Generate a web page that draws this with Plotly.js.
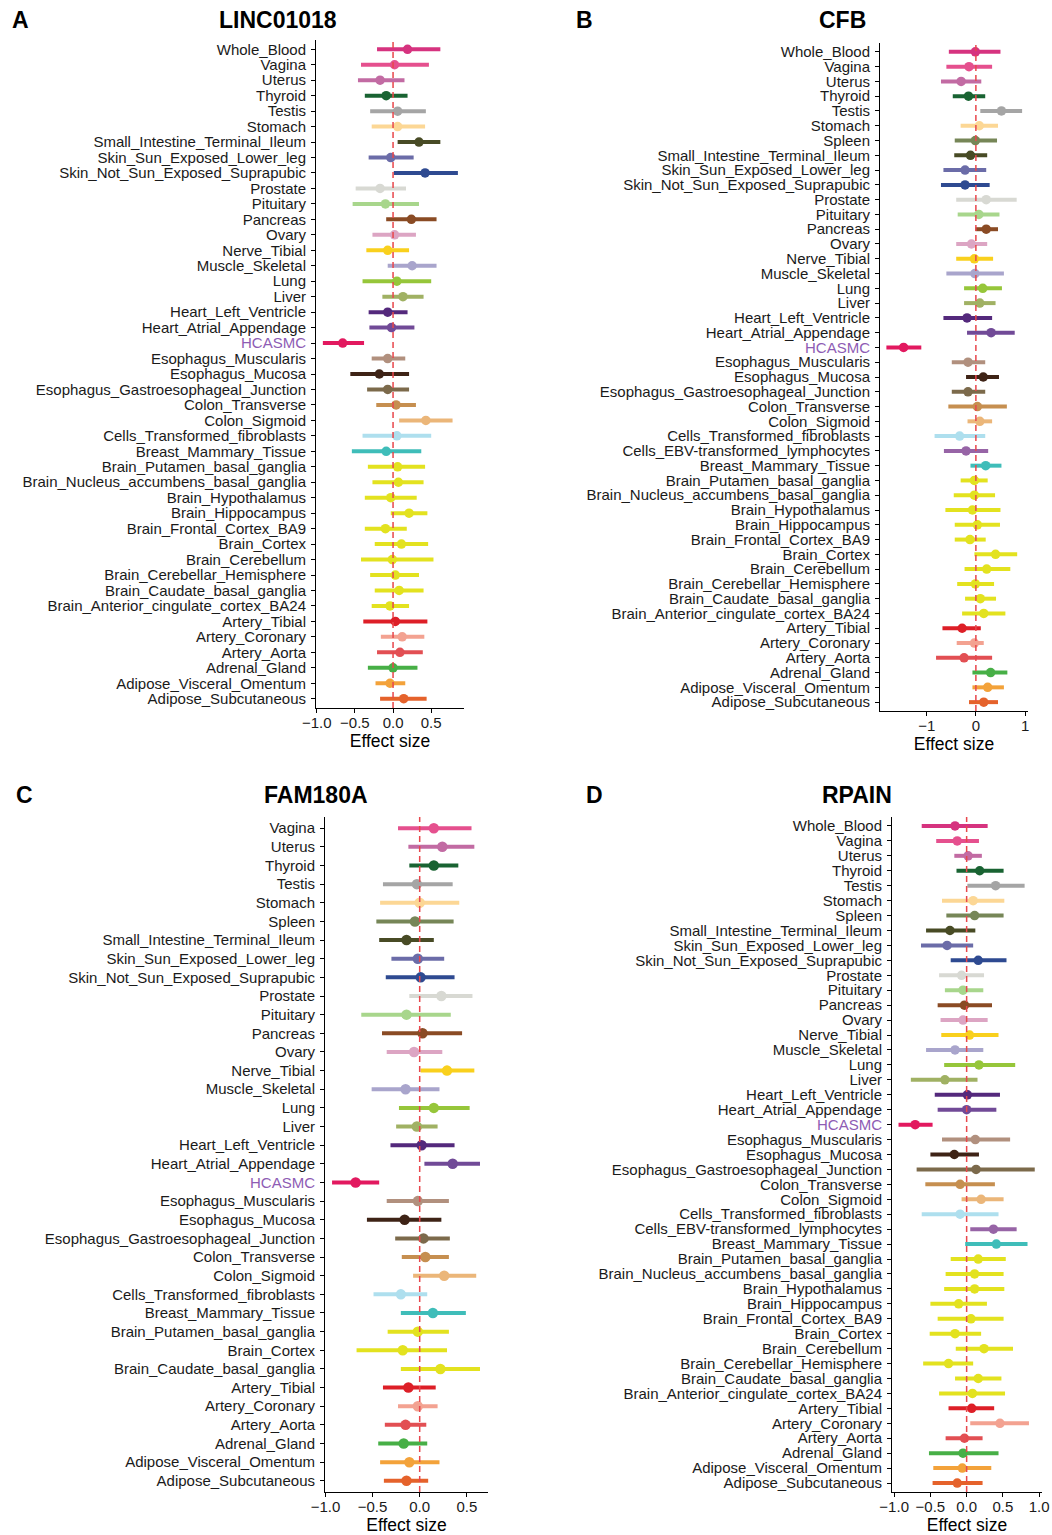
<!DOCTYPE html>
<html>
<head>
<meta charset="utf-8">
<script src="https://cdn.plot.ly/plotly-3.0.1.min.js"></script>
<style>
  html, body { margin: 0; padding: 0; background: #ffffff; }
  #chart { width: 1052px; height: 1535px; }
</style>
</head>
<body>
<div id="chart"></div>
<script>
// ---------- Panel A: LINC01018 ----------
const linc_tissue = ["Whole_Blood","Vagina","Uterus","Thyroid","Testis","Stomach","Small_Intestine_Terminal_Ileum","Skin_Sun_Exposed_Lower_leg","Skin_Not_Sun_Exposed_Suprapubic","Prostate","Pituitary","Pancreas","Ovary","Nerve_Tibial","Muscle_Skeletal","Lung","Liver","Heart_Left_Ventricle","Heart_Atrial_Appendage","HCASMC","Esophagus_Muscularis","Esophagus_Mucosa","Esophagus_Gastroesophageal_Junction","Colon_Transverse","Colon_Sigmoid","Cells_Transformed_fibroblasts","Breast_Mammary_Tissue","Brain_Putamen_basal_ganglia","Brain_Nucleus_accumbens_basal_ganglia","Brain_Hypothalamus","Brain_Hippocampus","Brain_Frontal_Cortex_BA9","Brain_Cortex","Brain_Cerebellum","Brain_Cerebellar_Hemisphere","Brain_Caudate_basal_ganglia","Brain_Anterior_cingulate_cortex_BA24","Artery_Tibial","Artery_Coronary","Artery_Aorta","Adrenal_Gland","Adipose_Visceral_Omentum","Adipose_Subcutaneous"];
const linc_est = [0.19,0.02,-0.17,-0.09,0.06,0.06,0.34,-0.03,0.42,-0.17,-0.10,0.24,0.02,-0.07,0.25,0.05,0.13,-0.07,-0.02,-0.66,-0.07,-0.18,-0.07,0.04,0.43,0.05,-0.09,0.06,0.07,-0.03,0.21,-0.10,0.11,-0.01,0.03,0.08,-0.04,0.03,0.12,0.09,0.00,-0.04,0.14];
const linc_lo  = [-0.21,-0.42,-0.46,-0.37,-0.30,-0.28,0.06,-0.32,0.01,-0.49,-0.53,-0.09,-0.27,-0.35,-0.07,-0.40,-0.14,-0.32,-0.31,-0.92,-0.28,-0.56,-0.34,-0.22,0.08,-0.40,-0.54,-0.33,-0.27,-0.37,-0.03,-0.37,-0.24,-0.42,-0.30,-0.24,-0.28,-0.39,-0.16,-0.21,-0.33,-0.23,-0.17];
const linc_hi  = [0.62,0.47,0.15,0.19,0.43,0.42,0.62,0.27,0.85,0.17,0.34,0.57,0.30,0.21,0.57,0.50,0.40,0.19,0.28,-0.38,0.16,0.21,0.21,0.30,0.78,0.50,0.37,0.42,0.40,0.31,0.45,0.18,0.46,0.53,0.34,0.40,0.21,0.45,0.41,0.39,0.32,0.16,0.44];

// ---------- Panel B: CFB ----------
const cfb_tissue = ["Whole_Blood","Vagina","Uterus","Thyroid","Testis","Stomach","Spleen","Small_Intestine_Terminal_Ileum","Skin_Sun_Exposed_Lower_leg","Skin_Not_Sun_Exposed_Suprapubic","Prostate","Pituitary","Pancreas","Ovary","Nerve_Tibial","Muscle_Skeletal","Lung","Liver","Heart_Left_Ventricle","Heart_Atrial_Appendage","HCASMC","Esophagus_Muscularis","Esophagus_Mucosa","Esophagus_Gastroesophageal_Junction","Colon_Transverse","Colon_Sigmoid","Cells_Transformed_fibroblasts","Cells_EBV-transformed_lymphocytes","Breast_Mammary_Tissue","Brain_Putamen_basal_ganglia","Brain_Nucleus_accumbens_basal_ganglia","Brain_Hypothalamus","Brain_Hippocampus","Brain_Frontal_Cortex_BA9","Brain_Cortex","Brain_Cerebellum","Brain_Cerebellar_Hemisphere","Brain_Caudate_basal_ganglia","Brain_Anterior_cingulate_cortex_BA24","Artery_Tibial","Artery_Coronary","Artery_Aorta","Adrenal_Gland","Adipose_Visceral_Omentum","Adipose_Subcutaneous"];
const cfb_est = [-0.01,-0.14,-0.30,-0.15,0.52,0.07,-0.01,-0.11,-0.22,-0.22,0.21,0.06,0.21,-0.09,-0.03,-0.02,0.14,0.08,-0.18,0.31,-1.47,-0.16,0.15,-0.16,0.03,0.08,-0.33,-0.20,0.20,-0.03,-0.03,-0.07,0.03,-0.12,0.40,0.22,-0.01,0.09,0.16,-0.28,-0.03,-0.24,0.30,0.24,0.16];
const cfb_lo  = [-0.55,-0.60,-0.71,-0.47,0.09,-0.31,-0.43,-0.44,-0.66,-0.71,-0.40,-0.37,-0.01,-0.40,-0.40,-0.60,-0.24,-0.24,-0.66,-0.18,-1.82,-0.49,-0.20,-0.49,-0.56,-0.17,-0.84,-0.65,-0.11,-0.31,-0.45,-0.62,-0.43,-0.43,-0.03,-0.23,-0.38,-0.22,-0.28,-0.68,-0.39,-0.81,-0.07,-0.07,-0.14];
const cfb_hi  = [0.50,0.33,0.11,0.19,0.94,0.45,0.43,0.23,0.21,0.28,0.83,0.48,0.45,0.23,0.35,0.57,0.53,0.40,0.33,0.79,-1.11,0.19,0.47,0.19,0.63,0.33,0.19,0.25,0.52,0.24,0.39,0.50,0.49,0.20,0.84,0.70,0.37,0.41,0.60,0.10,0.16,0.33,0.64,0.57,0.45];

// ---------- Panel C: FAM180A ----------
const fam_tissue = ["Vagina","Uterus","Thyroid","Testis","Stomach","Spleen","Small_Intestine_Terminal_Ileum","Skin_Sun_Exposed_Lower_leg","Skin_Not_Sun_Exposed_Suprapubic","Prostate","Pituitary","Pancreas","Ovary","Nerve_Tibial","Muscle_Skeletal","Lung","Liver","Heart_Left_Ventricle","Heart_Atrial_Appendage","HCASMC","Esophagus_Muscularis","Esophagus_Mucosa","Esophagus_Gastroesophageal_Junction","Colon_Transverse","Colon_Sigmoid","Cells_Transformed_fibroblasts","Breast_Mammary_Tissue","Brain_Putamen_basal_ganglia","Brain_Cortex","Brain_Caudate_basal_ganglia","Artery_Tibial","Artery_Coronary","Artery_Aorta","Adrenal_Gland","Adipose_Visceral_Omentum","Adipose_Subcutaneous"];
const fam_est = [0.15,0.24,0.15,-0.03,0.00,-0.05,-0.14,-0.02,0.01,0.23,-0.14,0.03,-0.06,0.29,-0.15,0.15,-0.03,0.02,0.35,-0.68,-0.02,-0.16,0.04,0.06,0.26,-0.20,0.14,-0.02,-0.18,0.22,-0.12,-0.02,-0.15,-0.17,-0.11,-0.14];
const fam_lo  = [-0.23,-0.12,-0.11,-0.39,-0.42,-0.46,-0.43,-0.30,-0.36,-0.11,-0.62,-0.40,-0.35,0.01,-0.51,-0.22,-0.25,-0.31,0.05,-0.93,-0.35,-0.56,-0.26,-0.19,-0.07,-0.49,-0.20,-0.34,-0.67,-0.20,-0.39,-0.23,-0.37,-0.44,-0.42,-0.38];
const fam_hi  = [0.55,0.58,0.41,0.35,0.42,0.36,0.15,0.26,0.37,0.56,0.33,0.45,0.24,0.58,0.21,0.53,0.19,0.37,0.64,-0.43,0.31,0.23,0.32,0.31,0.60,0.08,0.49,0.31,0.29,0.64,0.17,0.19,0.07,0.08,0.21,0.09];

// ---------- Panel D: RPAIN ----------
const rpain_tissue = ["Whole_Blood","Vagina","Uterus","Thyroid","Testis","Stomach","Spleen","Small_Intestine_Terminal_Ileum","Skin_Sun_Exposed_Lower_leg","Skin_Not_Sun_Exposed_Suprapubic","Prostate","Pituitary","Pancreas","Ovary","Nerve_Tibial","Muscle_Skeletal","Lung","Liver","Heart_Left_Ventricle","Heart_Atrial_Appendage","HCASMC","Esophagus_Muscularis","Esophagus_Mucosa","Esophagus_Gastroesophageal_Junction","Colon_Transverse","Colon_Sigmoid","Cells_Transformed_fibroblasts","Cells_EBV-transformed_lymphocytes","Breast_Mammary_Tissue","Brain_Putamen_basal_ganglia","Brain_Nucleus_accumbens_basal_ganglia","Brain_Hypothalamus","Brain_Hippocampus","Brain_Frontal_Cortex_BA9","Brain_Cortex","Brain_Cerebellum","Brain_Cerebellar_Hemisphere","Brain_Caudate_basal_ganglia","Brain_Anterior_cingulate_cortex_BA24","Artery_Tibial","Artery_Coronary","Artery_Aorta","Adrenal_Gland","Adipose_Visceral_Omentum","Adipose_Subcutaneous"];
const rpain_est = [-0.16,-0.13,0.02,0.18,0.40,0.09,0.11,-0.23,-0.27,0.16,-0.07,-0.05,-0.03,-0.05,0.04,-0.16,0.17,-0.30,0.01,0.00,-0.71,0.12,-0.17,0.13,-0.09,0.20,-0.09,0.37,0.41,0.16,0.11,0.11,-0.11,0.06,-0.16,0.24,-0.25,0.16,0.08,0.07,0.46,-0.03,-0.05,-0.06,-0.13];
const rpain_lo  = [-0.62,-0.42,-0.17,-0.14,0.01,-0.34,-0.28,-0.56,-0.63,-0.22,-0.38,-0.30,-0.40,-0.36,-0.35,-0.56,-0.31,-0.77,-0.44,-0.40,-0.94,-0.34,-0.50,-0.69,-0.57,-0.07,-0.62,0.05,-0.02,-0.22,-0.29,-0.31,-0.50,-0.40,-0.51,-0.15,-0.60,-0.16,-0.38,-0.25,0.05,-0.29,-0.52,-0.46,-0.47];
const rpain_hi  = [0.29,0.17,0.21,0.51,0.80,0.52,0.51,0.12,0.09,0.55,0.24,0.23,0.35,0.29,0.44,0.23,0.67,0.15,0.46,0.41,-0.47,0.60,0.17,0.94,0.39,0.51,0.44,0.69,0.84,0.54,0.51,0.52,0.28,0.51,0.20,0.64,0.09,0.48,0.53,0.38,0.86,0.22,0.44,0.34,0.22];

// Tissue palette
const tissueColor = {
  "Whole_Blood": "#D6337F",
  "Vagina": "#E5508E",
  "Uterus": "#C26BA3",
  "Thyroid": "#196332",
  "Testis": "#A5A5A5",
  "Stomach": "#FCD795",
  "Spleen": "#768657",
  "Small_Intestine_Terminal_Ileum": "#484B25",
  "Skin_Sun_Exposed_Lower_leg": "#6B6CA8",
  "Skin_Not_Sun_Exposed_Suprapubic": "#2E4A91",
  "Prostate": "#D8D9D3",
  "Pituitary": "#A8D68C",
  "Pancreas": "#8A4B24",
  "Ovary": "#DCA5C3",
  "Nerve_Tibial": "#F9D01D",
  "Muscle_Skeletal": "#A9A5CC",
  "Lung": "#96C63A",
  "Liver": "#A0B163",
  "Heart_Left_Ventricle": "#54297C",
  "Heart_Atrial_Appendage": "#714A97",
  "HCASMC": "#E2195F",
  "Esophagus_Muscularis": "#B1907E",
  "Esophagus_Mucosa": "#3E2316",
  "Esophagus_Gastroesophageal_Junction": "#7C6A4B",
  "Colon_Transverse": "#C68F50",
  "Colon_Sigmoid": "#EBB679",
  "Cells_Transformed_fibroblasts": "#AEDFEE",
  "Cells_EBV-transformed_lymphocytes": "#9764A6",
  "Breast_Mammary_Tissue": "#3FBDB9",
  "Artery_Tibial": "#DD1F27",
  "Artery_Coronary": "#F3A291",
  "Artery_Aorta": "#E24F53",
  "Adrenal_Gland": "#47AF46",
  "Adipose_Visceral_Omentum": "#F3A23A",
  "Adipose_Subcutaneous": "#E5622B"
};
const BRAIN_COLOR = "#E3E21F";
function colorOf(t) {
  if (t.indexOf("Brain_") === 0) return BRAIN_COLOR;
  return tissueColor[t] || "#888888";
}
const HIGHLIGHT = "HCASMC";
const HIGHLIGHT_LABEL_COLOR = "#8E5CB4";

const W = 1052, H = 1535;
const FONT = "Liberation Sans, Arial, Helvetica, sans-serif";

const traces = [];
const layout = {
  width: W, height: H,
  margin: {l: 0, r: 0, t: 0, b: 0},
  paper_bgcolor: "#ffffff",
  plot_bgcolor: "#ffffff",
  showlegend: false,
  font: {family: FONT, color: "#000000", size: 15},
  shapes: [],
  annotations: []
};

// pixel box -> paper domain helpers
const dx = (a, b) => [a / W, b / W];
const dy = (top, bottom) => [1 - bottom / H, 1 - top / H];

function addPanel(idx, tissues, est, lo, hi, box, xrange, xticks, xfmt, markerSize) {
  const xa = idx === 1 ? "x" : "x" + idx;
  const ya = idx === 1 ? "y" : "y" + idx;
  const xKey = idx === 1 ? "xaxis" : "xaxis" + idx;
  const yKey = idx === 1 ? "yaxis" : "yaxis" + idx;

  // confidence interval segments
  tissues.forEach((t, i) => {
    traces.push({
      type: "scatter", mode: "lines",
      x: [lo[i], hi[i]], y: [t, t],
      xaxis: xa, yaxis: ya,
      line: {color: colorOf(t), width: 4},
      hoverinfo: "skip", showlegend: false
    });
  });
  // point estimates
  traces.push({
    type: "scatter", mode: "markers",
    x: est, y: tissues,
    xaxis: xa, yaxis: ya,
    marker: {color: tissues.map(colorOf), size: markerSize, line: {width: 0}},
    hovertemplate: "%{y}: %{x:.2f}<extra></extra>",
    showlegend: false
  });

  const n = tissues.length;
  layout[xKey] = {
    domain: dx(box.l, box.r), anchor: ya,
    range: xrange, showgrid: false, zeroline: false,
    showline: true, linecolor: "#000000", linewidth: 1,
    ticks: "outside", ticklen: 4, tickwidth: 1, tickcolor: "#000000",
    tickmode: "array", tickvals: xticks, tickformat: xfmt,
    tickfont: {size: 15, color: "#1a1a1a"},
    ticklabelstandoff: -3,
    title: {text: "Effect size", font: {size: 17.5, color: "#000000"}, standoff: 4},
    automargin: false, fixedrange: true
  };
  layout[yKey] = {
    domain: dy(box.t, box.b), anchor: xa,
    type: "category",
    categoryorder: "array", categoryarray: tissues,
    range: [n - 1 + 0.6, -0.6],
    showgrid: false, zeroline: false,
    showline: true, linecolor: "#000000", linewidth: 1,
    ticks: "outside", ticklen: 4, tickwidth: 1, tickcolor: "#000000",
    tickmode: "array", tickvals: tissues,
    ticktext: tissues.map(t => t === HIGHLIGHT
      ? '<span style="color:' + HIGHLIGHT_LABEL_COLOR + '">' + t + '</span>' : t),
    tickfont: {size: 15, color: "#1a1a1a"},
    ticklabelstandoff: 2,
    automargin: false, fixedrange: true
  };
  // null-effect reference line
  layout.shapes.push({
    type: "line", xref: xa, yref: ya + " domain",
    x0: 0, x1: 0, y0: 0, y1: 1,
    line: {color: "#E8474C", width: 1.5, dash: "6px,4px"},
    layer: "above"
  });
}

addPanel(1, linc_tissue, linc_est, linc_lo, linc_hi,
  {l: 316, r: 464, t: 40, b: 708}, [-1.01, 0.93], [-1, -0.5, 0, 0.5], ".1f", 9.5);
addPanel(2, cfb_tissue, cfb_est, cfb_lo, cfb_hi,
  {l: 880, r: 1028, t: 43, b: 711}, [-1.95, 1.06], [-1, 0, 1], "d", 9.5);
addPanel(3, fam_tissue, fam_est, fam_lo, fam_hi,
  {l: 325, r: 488, t: 817, b: 1492}, [-1.005, 0.725], [-1, -0.5, 0, 0.5], ".1f", 10.5);
addPanel(4, rpain_tissue, rpain_est, rpain_lo, rpain_hi,
  {l: 892, r: 1042, t: 817, b: 1492}, [-1.03, 1.04], [-1, -0.5, 0, 0.5, 1], ".1f", 9.5);

// panel letters and gene titles
function label(text, px, py, size) {
  layout.annotations.push({
    text: "<b>" + text + "</b>", xref: "paper", yref: "paper",
    x: px / W, y: 1 - py / H, xanchor: "center", yanchor: "middle",
    showarrow: false, font: {size: size, color: "#000000", family: FONT}
  });
}
label("A", 20, 20, 23);
label("LINC01018", 278, 20, 23);
label("B", 584, 20, 23);
label("CFB", 842, 20, 23);
label("C", 24, 795, 23);
label("FAM180A", 316, 795, 23);
label("D", 594, 795, 23);
label("RPAIN", 857, 795, 23);

Plotly.newPlot("chart", traces, layout, {displayModeBar: false, staticPlot: true});
</script>
</body>
</html>
